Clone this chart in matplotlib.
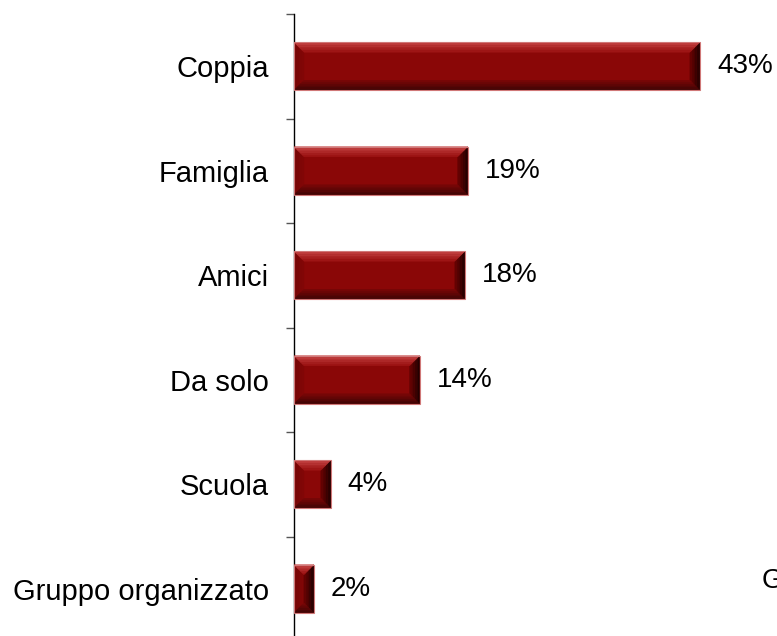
import numpy as np
import matplotlib
matplotlib.use("Agg")
import matplotlib.pyplot as plt
from matplotlib.patches import Polygon
from matplotlib.colors import to_rgb

# Data
categories = ["Coppia", "Famiglia", "Amici", "Da solo", "Scuola", "Gruppo organizzato"]
values = [43.0, 18.4, 18.1, 13.3, 3.9, 2.1]
labels = ["43%", "19%", "18%", "14%", "4%", "2%"]

FACE = "#8a0707"
BAR_H = 0.46

plt.rcParams['font.family'] = ['Liberation Sans', 'DejaVu Sans']

fig = plt.figure(figsize=(7.77, 6.36), dpi=100)
ax = fig.add_axes([294 / 777, -5 / 636, 472 / 777, 627 / 636])

ypos = np.arange(len(categories))
bars = ax.barh(ypos, values, height=BAR_H, color=FACE, edgecolor="none", zorder=2)

ax.set_xlim(0, 50)
ax.set_ylim(len(categories) - 0.5, -0.5)

# pixel -> data scale for the bevel
px_x = 50 / 472
px_y = 6 / 627


def mix(c1, c2, t):
    a, b = np.array(to_rgb(c1)), np.array(to_rgb(c2))
    return tuple(a + (b - a) * t)


def band(x0, x1, yt, yb, dx, dy, side, c_out, c_in, n=6):
    for i in range(n):
        t0, t1 = i / n, (i + 1) / n
        col = mix(c_out, c_in, (i + 0.5) / n)
        if side == "top":
            pts = [(x0 + t0 * dx, yt + t0 * dy), (x1 - t0 * dx, yt + t0 * dy),
                   (x1 - t1 * dx, yt + t1 * dy), (x0 + t1 * dx, yt + t1 * dy)]
        elif side == "bottom":
            pts = [(x0 + t0 * dx, yb - t0 * dy), (x1 - t0 * dx, yb - t0 * dy),
                   (x1 - t1 * dx, yb - t1 * dy), (x0 + t1 * dx, yb - t1 * dy)]
        elif side == "left":
            pts = [(x0 + t0 * dx, yt + t0 * dy), (x0 + t1 * dx, yt + t1 * dy),
                   (x0 + t1 * dx, yb - t1 * dy), (x0 + t0 * dx, yb - t0 * dy)]
        else:
            pts = [(x1 - t0 * dx, yt + t0 * dy), (x1 - t1 * dx, yt + t1 * dy),
                   (x1 - t1 * dx, yb - t1 * dy), (x1 - t0 * dx, yb - t0 * dy)]
        ax.add_patch(Polygon(pts, closed=True, facecolor=col, edgecolor=col,
                             lw=0.3, zorder=3))


for b in bars:
    x0, x1 = b.get_x(), b.get_x() + b.get_width()
    yt, yb = b.get_y(), b.get_y() + b.get_height()
    dx = min(10 * px_x, (x1 - x0) / 2)
    dy = 10 * px_y
    band(x0, x1, yt, yb, dx, dy, "left", "#750505", "#820606")
    band(x0, x1, yt, yb, dx, dy, "right", "#1a0000", "#6a0202")
    band(x0, x1, yt, yb, dx, dy, "top", "#c84848", "#9a1010")
    band(x0, x1, yt, yb, dx, dy, "bottom", "#3a0404", "#7a0606")
    ax.add_patch(Polygon([(x0, yt), (x1, yt), (x1, yb), (x0, yb)], closed=True,
                         facecolor="none", edgecolor="#d07878", lw=0.8, zorder=4))

for b, lab in zip(bars, labels):
    ax.annotate(lab, (b.get_width(), b.get_y() + b.get_height() / 2),
                xytext=(17, 0), textcoords="offset pixels",
                ha="left", va="center", fontsize=20, color="black")

ax.set_yticks(ypos)
ax.set_yticklabels(categories, fontsize=21)
ax.set_yticks(np.arange(-0.5, len(categories)), minor=True)
ax.tick_params(axis="y", which="major", length=0, pad=18)
ax.tick_params(axis="y", which="minor", length=6, width=1, color="#555555")
ax.set_xticks([])

for s in ["top", "right", "bottom"]:
    ax.spines[s].set_visible(False)
ax.spines["left"].set_color("black")
ax.spines["left"].set_linewidth(1.0)

fig.text(762 / 777, 1 - 588 / 636, "G", fontsize=20, ha="left", va="baseline")

fig.savefig("out.png", dpi=100)
